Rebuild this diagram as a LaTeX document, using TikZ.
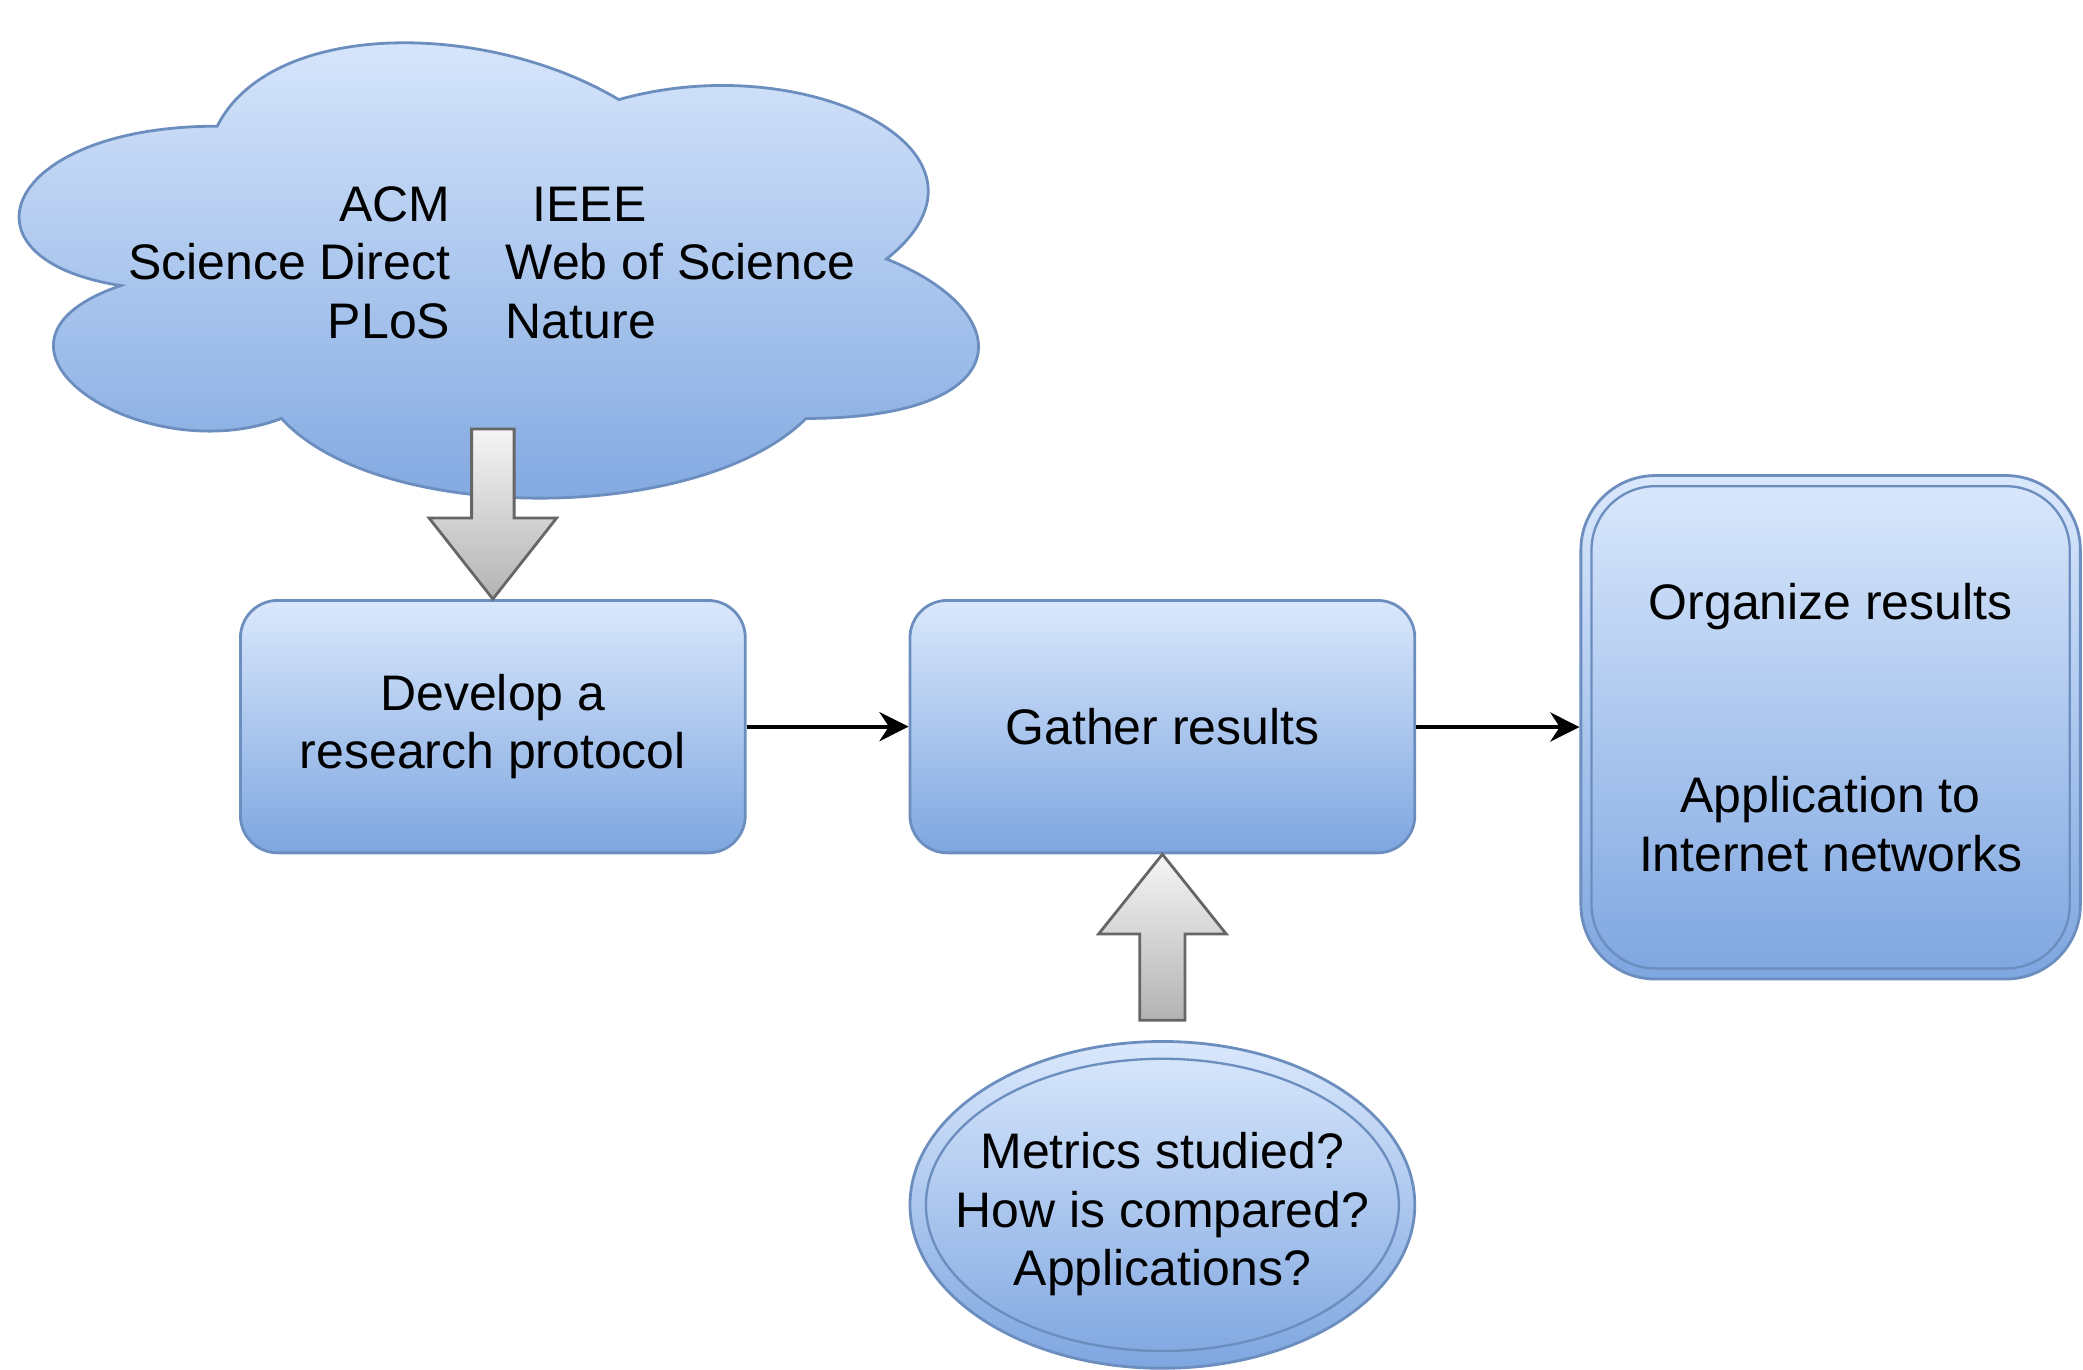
\documentclass[tikz,border=0pt]{standalone}
\usepackage{fontspec}
\setmainfont{Liberation Sans}
\usepackage{tikz}
\usetikzlibrary{arrows.meta,shapes.geometric}
\definecolor{boxtop}{HTML}{DAE8FC}
\definecolor{boxbottom}{HTML}{7EA6E0}
\definecolor{boxline}{HTML}{6C8EBF}
\definecolor{arrowtop}{HTML}{F5F5F5}
\definecolor{arrowbottom}{HTML}{B3B3B3}
\definecolor{arrowline}{HTML}{666666}

\begin{document}
\begin{tikzpicture}[font=\fontsize{10.7}{12.5}\selectfont,
    bluefill/.style={draw=boxline,line width=0.6pt,top color=boxtop,bottom color=boxbottom},
    bluebox/.style={bluefill,rounded corners=0.28cm,minimum width=3.8cm,minimum height=1.9cm,align=center},
    bluedisc/.style={bluefill,ellipse,inner sep=0pt},
    innerline/.style={draw=boxline,line width=0.5pt},
    grayarrow/.style={draw=arrowline,line width=0.6pt,top color=arrowtop,bottom color=arrowbottom},
    flow/.style={-{Stealth[length=2.2mm,width=2.2mm]},line width=0.8pt}]
      \useasboundingbox (0,0) rectangle (15.68,10.31);
      % databases
      \path[bluefill] (1.635,9.36) .. controls (0.023,9.36) and (-0.38,8.36) .. (0.910,8.16)
        .. controls (-0.38,7.72) and (1.071,6.76) .. (2.119,7.16)
        .. controls (2.844,6.36) and (5.262,6.36) .. (6.068,7.16)
        .. controls (7.68,7.16) and (7.68,7.96) .. (6.673,8.36)
        .. controls (7.68,9.16) and (6.068,9.96) .. (4.658,9.56)
        .. controls (3.65,10.16) and (2.038,10.16) .. (1.635,9.36) -- cycle;
      \node (sources) at (3.70,8.29) {\begin{tabular}{@{}r@{\hspace{0.42cm}}l@{}}
        ACM & \hspace{0.2cm}IEEE\\
        Science Direct & Web of Science\\
        PLoS & Nature
      \end{tabular}};
      % steps
      \node[bluebox] (protocol) at (3.71,4.84) {Develop a\\research protocol};
      \node[bluebox] (gather) at (8.75,4.84) {Gather results};
      \node[bluebox,minimum width=3.76cm,minimum height=3.79cm,rounded corners=0.56cm] (organize) at (13.78,4.835)
        {Organize results\\[1.02cm]Application to\\Internet networks};
      \node[innerline,rounded corners=0.48cm,minimum width=3.6cm,minimum height=3.63cm] (organize-in) at (organize) {};
      \node[bluedisc,minimum width=3.8cm,minimum height=2.46cm,
        label={[align=center,yshift=-0.07cm]center:Metrics studied?\\How is compared?\\Applications?}] (questions) at (8.75,1.24) {};
      \node[innerline,ellipse,minimum width=3.56cm,minimum height=2.2cm] (questions-in) at (questions) {};
      % flow
      \draw[flow] (protocol) -- (gather);
      \draw[flow] (gather) -- (organize);
      \draw[grayarrow] (protocol.north) -- ++(-0.48,0.61) -- ++(0.32,0) -- ++(0,0.67)
        -- ++(0.32,0) -- ++(0,-0.67) -- ++(0.32,0) -- cycle;
      \draw[grayarrow] (gather.south) -- ++(0.48,-0.6) -- ++(-0.31,0) -- ++(0,-0.65)
        -- ++(-0.34,0) -- ++(0,0.65) -- ++(-0.31,0) -- cycle;
    \end{tikzpicture}
\end{document}
